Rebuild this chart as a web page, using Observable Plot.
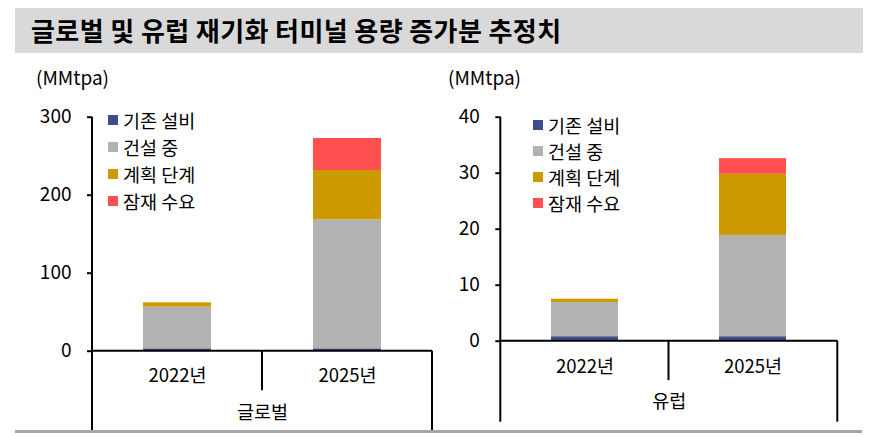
<!DOCTYPE html>
<html><head><meta charset="utf-8">
<script src="https://cdn.jsdelivr.net/npm/d3@7"></script>
<script src="https://cdn.jsdelivr.net/npm/@observablehq/plot@0.6"></script>
<style>
body{margin:0;background:#fff;font-family:'Noto Sans CJK KR','Noto Sans',sans-serif;color:#000;}
#wrap{position:relative;width:878px;height:436px;overflow:hidden;background:#fff;}
.abs{position:absolute;white-space:nowrap;}
#title{left:15px;top:8px;width:848px;height:45px;background:#d9d9d9;}
#title span{position:absolute;left:16px;top:50%;transform:translateY(-52%);font-weight:700;font-size:26px;letter-spacing:0.4px;line-height:1;}
.unit{font-size:19px;line-height:1;}
.legend .row{height:27px;display:flex;align-items:center;font-size:18.5px;}
.legend .sw{width:10px;height:10px;margin-right:5px;flex:none;}
#bottomline{left:15px;top:430px;width:847px;height:3px;background:#a6a6a6;}
.panel{top:60px;}
</style>
</head><body>
<div id="wrap">
  <div id="title" class="abs"><span>글로벌 및 유럽 재기화 터미널 용량 증가분 추정치</span></div>
  <div class="abs unit" style="left:36px;top:67px;">(MMtpa)</div>
  <div class="abs unit" style="left:448px;top:67px;">(MMtpa)</div>
  <div id="leftPanel" class="abs panel" style="left:0px;"></div>
  <div id="rightPanel" class="abs panel" style="left:440px;"></div>
  <div id="leftLegend" class="abs legend" style="left:108px;top:106px;"></div>
  <div id="rightLegend" class="abs legend" style="left:533px;top:112px;"></div>
  <div id="bottomline" class="abs"></div>
</div>
<script>
// ---- data ----
const years = ["2022년", "2025년"];
const seriesNames = ["기존 설비", "건설 중", "계획 단계", "잠재 수요"];
const seriesColors = ["#3f4d8a", "#b2b2b2", "#cc9900", "#ff5050"];

const globalExisting = [3, 3];
const globalConstruction = [53.5, 165.5];
const globalPlanned = [5.5, 63.2];
const globalPotential = [0, 41];

const europeExisting = [0.8, 0.8];
const europeConstruction = [6.1, 18.1];
const europePlanned = [0.6, 10.9];
const europePotential = [0, 2.8];

const globalTicks = [0, 100, 200, 300];
const europeTicks = [0, 10, 20, 30, 40];
const groupNames = ["글로벌", "유럽"];

function toRows(arrays) {
  const rows = [];
  years.forEach((y, i) => {
    arrays.forEach((arr, s) => rows.push({year: y, series: seriesNames[s], value: arr[i]}));
  });
  return rows;
}

function panel(target, rows, ticks, group, cfg) {
  const plot = Plot.plot({
    width: cfg.width,
    height: 376,
    marginLeft: cfg.ml,
    marginRight: cfg.mr,
    marginTop: 56.7,
    marginBottom: cfg.mb,
    style: {fontFamily: "'Noto Sans CJK KR', sans-serif", fontSize: "18px", color: "#000", background: "transparent", overflow: "visible"},
    x: {domain: years, paddingInner: 0.6, paddingOuter: 0.3, axis: null},
    y: {domain: [ticks[0], ticks[ticks.length - 1]], axis: null},
    color: {domain: seriesNames, range: seriesColors},
    marks: [
      Plot.barY(rows, {x: "year", y: "value", fill: "series", order: seriesNames}),
      Plot.axisY({ticks: ticks, tickSize: 5, tickPadding: 16, label: null, strokeWidth: 2, fontSize: 19, tickFormat: d => String(d)}),
      Plot.axisX({tickSize: 0, tickPadding: cfg.catPad, label: null, fontSize: 18.5}),
      Plot.text([group], {text: d => d, frameAnchor: "bottom", dy: cfg.groupDy, lineAnchor: "middle", fontSize: 18.5})
    ]
  });
  const sx = plot.scale("x"), sy = plot.scale("y");
  const x0 = sx.range[0], x1 = sx.range[1];
  const y0 = sy.apply(0), yTop = sy.apply(ticks[ticks.length - 1]);
  const divider = (sx.apply(years[0]) + sx.bandwidth + sx.apply(years[1])) / 2;
  const g = d3.select(plot).append("g").attr("stroke", "#000").attr("stroke-width", 2).attr("fill", "none");
  g.append("line").attr("x1", x0).attr("x2", x0).attr("y1", yTop).attr("y2", y0 + cfg.tail);
  g.append("line").attr("x1", x0).attr("x2", x1).attr("y1", y0).attr("y2", y0);
  g.append("line").attr("x1", divider).attr("x2", divider).attr("y1", y0).attr("y2", y0 + 39.5);
  g.append("line").attr("x1", x1).attr("x2", x1).attr("y1", y0).attr("y2", y0 + cfg.tail);
  document.getElementById(target).appendChild(plot);
}

panel("leftPanel",
  toRows([globalExisting, globalConstruction, globalPlanned, globalPotential]),
  globalTicks, groupNames[0],
  {width: 440, ml: 92, mr: 8, mb: 85.3, catPad: 18, groupDy: 62, tail: 80});

panel("rightPanel",
  toRows([europeExisting, europeConstruction, europePlanned, europePotential]),
  europeTicks, groupNames[1],
  {width: 438, ml: 60.3, mr: 40.7, mb: 95.3, catPad: 19, groupDy: 61, tail: 81});

function legend(id) {
  const el = d3.select("#" + id);
  seriesNames.forEach((n, i) => {
    const r = el.append("div").attr("class", "row");
    r.append("div").attr("class", "sw").style("background", seriesColors[i]);
    r.append("span").text(n);
  });
}
legend("leftLegend");
legend("rightLegend");
d3.select("#rightLegend").selectAll(".row").style("height", "26px");
</script>
</body></html>
